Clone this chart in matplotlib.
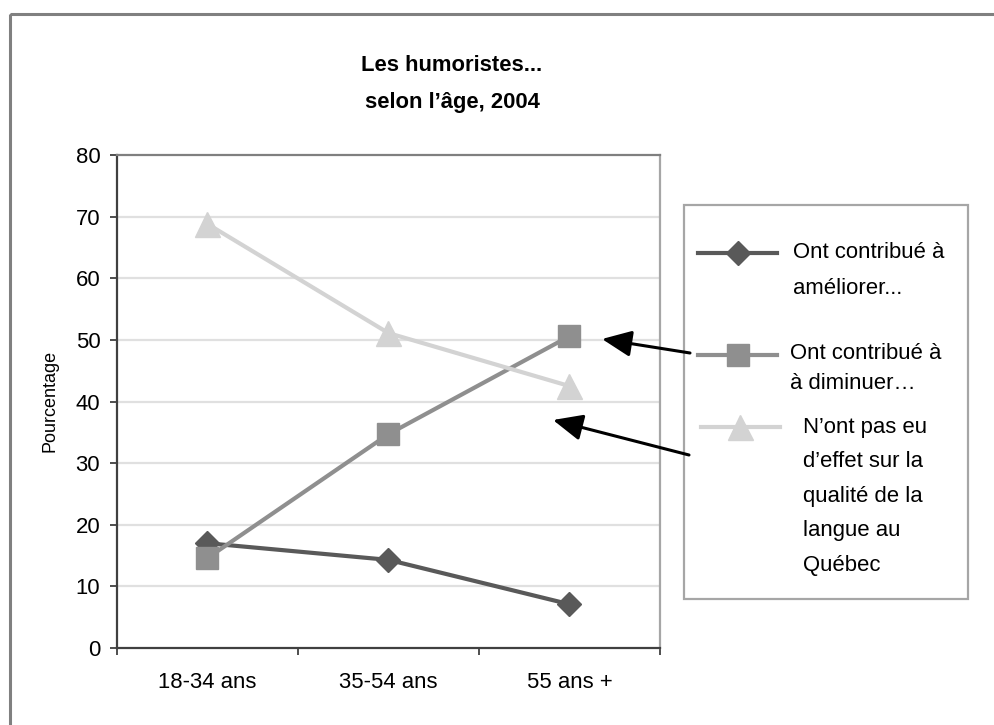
import matplotlib.pyplot as plt
from matplotlib.patches import Rectangle

# figure size in pixels (dpi 100)
W, H = 995, 725

categories = ["18-34 ans", "35-54 ans", "55 ans +"]
ameliorer = [17.0, 14.3, 7.1]
diminuer = [14.6, 34.7, 50.6]
sans_effet = [68.8, 51.1, 42.5]
y_ticks = [0, 10, 20, 30, 40, 50, 60, 70, 80]

title_lines = ["Les humoristes...", "selon l\u2019\u00e2ge, 2004"]
label_ameliorer = ["Ont contribu\u00e9 \u00e0", "am\u00e9liorer..."]
label_diminuer = ["Ont contribu\u00e9 \u00e0", "\u00e0 diminuer\u2026"]
label_sans_effet = ["N\u2019ont pas eu", "d\u2019effet sur la", "qualit\u00e9 de la",
                    "langue au", "Qu\u00e9bec"]

DARK = "#595959"
MID = "#8f8f8f"
LIGHT = "#d3d3d3"

plt.rcParams['font.family'] = ['Liberation Sans', 'DejaVu Sans']

fig = plt.figure(figsize=(W / 100, H / 100), dpi=100)
fig.patch.set_facecolor("white")

# plot area, from pixel box (117,155)-(660,648)
left, right, top, bottom = 117, 660, 155, 648
ax = fig.add_axes([left / W, 1 - bottom / H, (right - left) / W, (bottom - top) / H])

x = [i + 0.5 for i in range(len(categories))]
ax.plot(x, ameliorer, color=DARK, lw=3, marker="D", ms=12.5, zorder=3)
ax.plot(x, diminuer, color=MID, lw=3, marker="s", ms=16, zorder=3)
ax.plot(x, sans_effet, color=LIGHT, lw=3, marker="^", ms=18, zorder=3)

ax.set_xlim(0, len(categories))
ax.set_ylim(0, 80)
ax.set_yticks(y_ticks)
ax.set_xticks(range(len(categories) + 1))
ax.set_xticklabels([])
ax.set_xticks(x, minor=True)
ax.set_xticklabels(categories, minor=True)
ax.tick_params(axis="x", which="minor", length=0, pad=17.5, labelsize=15.9)
ax.tick_params(axis="x", which="major", length=5, width=1.3, color="#404040")
ax.tick_params(axis="y", length=5, width=1.3, color="#404040", pad=7, labelsize=15.9)

for v in y_ticks[1:-1]:
    ax.axhline(v, color="#e0e0e0", lw=1.6, zorder=1)

ax.spines["left"].set_color("#404040")
ax.spines["bottom"].set_color("#404040")
ax.spines["top"].set_color("#7f7f7f")
ax.spines["right"].set_color("#a6a6a6")
for s in ax.spines.values():
    s.set_linewidth(1.6)

# overlay in image pixel coordinates for title, legend, arrows, frame
ov = fig.add_axes([0, 0, 1, 1], zorder=5)
ov.set_xlim(0, W)
ov.set_ylim(H, 0)
ov.axis("off")
ov.patch.set_alpha(0)

ov.add_patch(Rectangle((10, 14), W, H, facecolor="none", edgecolor="#808080", lw=2.2))

ov.text(452, 65, title_lines[0], ha="center", va="center", fontsize=15.8, fontweight="bold")
ov.text(452, 102, title_lines[1], ha="center", va="center", fontsize=15.8, fontweight="bold")

ov.text(50, 401, "Pourcentage", rotation=90, ha="center", va="center", fontsize=13)

# legend box
ov.add_patch(Rectangle((684, 205), 284, 394, facecolor="white", edgecolor="#a6a6a6", lw=1.6))

ov.plot([698, 777], [253, 253], color=DARK, lw=3)
ov.plot([738], [253], color=DARK, marker="D", ms=12.5)
for i, t in enumerate(label_ameliorer):
    ov.text(793, 252 + 36 * i, t, va="center", fontsize=15.9)

ov.plot([698, 777], [355, 355], color=MID, lw=3)
ov.plot([738], [355], color=MID, marker="s", ms=16)
for i, t in enumerate(label_diminuer):
    ov.text(790, 353 + 30 * i, t, va="center", fontsize=15.9)

ov.plot([701, 780], [427, 427], color=LIGHT, lw=3)
ov.plot([740], [427], color=LIGHT, marker="^", ms=18)
for i, t in enumerate(label_sans_effet):
    ov.text(803, 427 + 34.5 * i, t, va="center", fontsize=15.9)

arrow_style = dict(arrowstyle="-|>,head_length=1.8,head_width=0.8", color="black",
                   lw=2.2, shrinkA=0, shrinkB=0)
ov.annotate("", xy=(602, 339), xytext=(690, 353), arrowprops=arrow_style)
ov.annotate("", xy=(553, 420), xytext=(689, 455), arrowprops=arrow_style)

fig.savefig("out.png", dpi=100)
